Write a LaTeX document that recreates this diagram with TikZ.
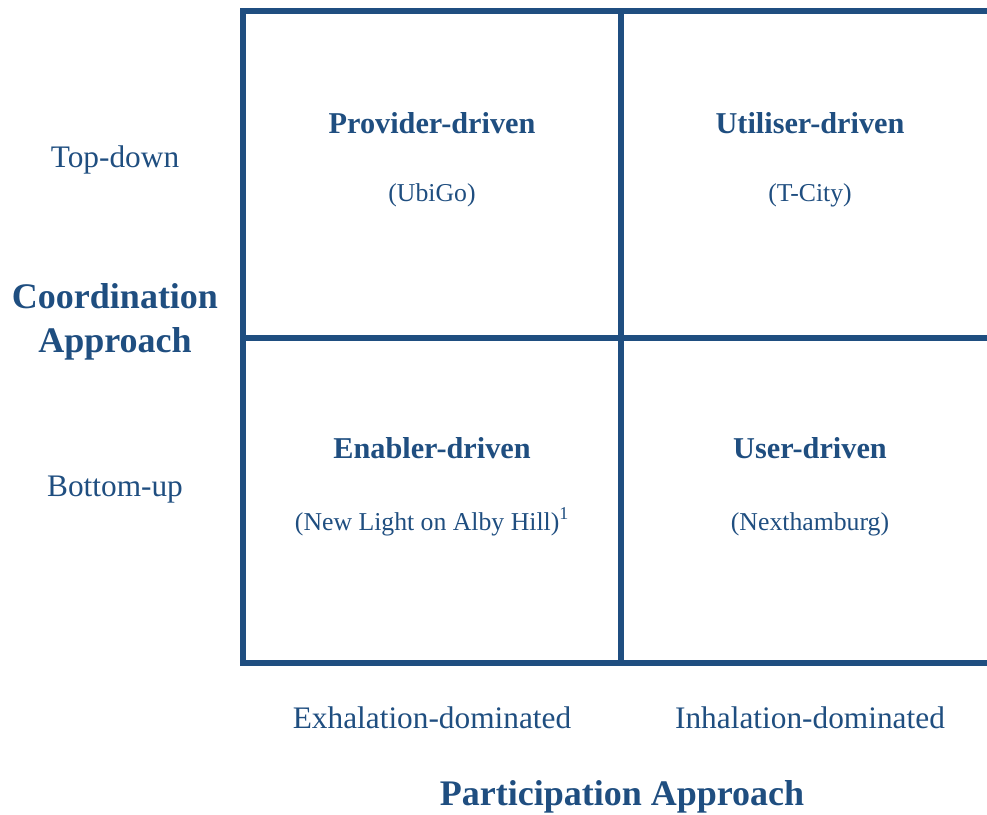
\documentclass[tikz,border=0pt]{standalone}
\usepackage{fontspec}
\setmainfont{Liberation Serif}
\definecolor{navy}{RGB}{31,78,128}
\begin{document}
\begin{tikzpicture}[x=0.75pt,y=-0.75pt,
  gridline/.style={draw=navy,line width=4.5pt,line join=miter,line cap=rect},
  axistitle/.style={text=navy,font=\fontsize{27}{30}\selectfont\bfseries,anchor=base,inner sep=0pt},
  axislabel/.style={text=navy,font=\fontsize{23.5}{26}\selectfont,anchor=base,inner sep=0pt},
  celltitle/.style={text=navy,font=\fontsize{22.7}{25}\selectfont\bfseries,anchor=base,inner sep=0pt},
  cellcase/.style={text=navy,font=\fontsize{19.3}{22}\selectfont,anchor=base,inner sep=0pt}]
\useasboundingbox (0,0) rectangle (987,814);
\clip (0,0) rectangle (987,814);
% quadrant grid, open on the right
\draw[gridline] (1000,11) -- (243,11) -- (243,663) -- (1000,663);
\draw[gridline] (621,11) -- (621,663);
\draw[gridline] (243,338) -- (1000,338);
% quadrant contents
\node[celltitle] (pt) at (432,133) {Provider-driven};
\node[cellcase]  (pc) at (432,201) {(UbiGo)};
\node[celltitle] (ut) at (810,133) {Utiliser-driven};
\node[cellcase]  (uc) at (810,201) {(T-City)};
\node[celltitle] (et) at (432,458) {Enabler-driven};
\node[cellcase]  (ec) at (432,530) {(New Light on Alby Hill)\textsuperscript{1}};
\node[celltitle] (ust) at (810,458) {User-driven};
\node[cellcase]  (usc) at (810,530) {(Nexthamburg)};
% vertical axis
\node[axislabel] (td) at (115,167) {Top-down};
\node[axislabel] (bu) at (115,496) {Bottom-up};
\node[axistitle] (ca1) at (115,308) {Coordination};
\node[axistitle] (ca2) at (115,352) {Approach};
% horizontal axis
\node[axislabel] (ex) at (432,728) {Exhalation-dominated};
\node[axislabel] (in) at (810,728) {Inhalation-dominated};
\node[axistitle] (pa) at (622,805) {Participation Approach};
\end{tikzpicture}
\end{document}
